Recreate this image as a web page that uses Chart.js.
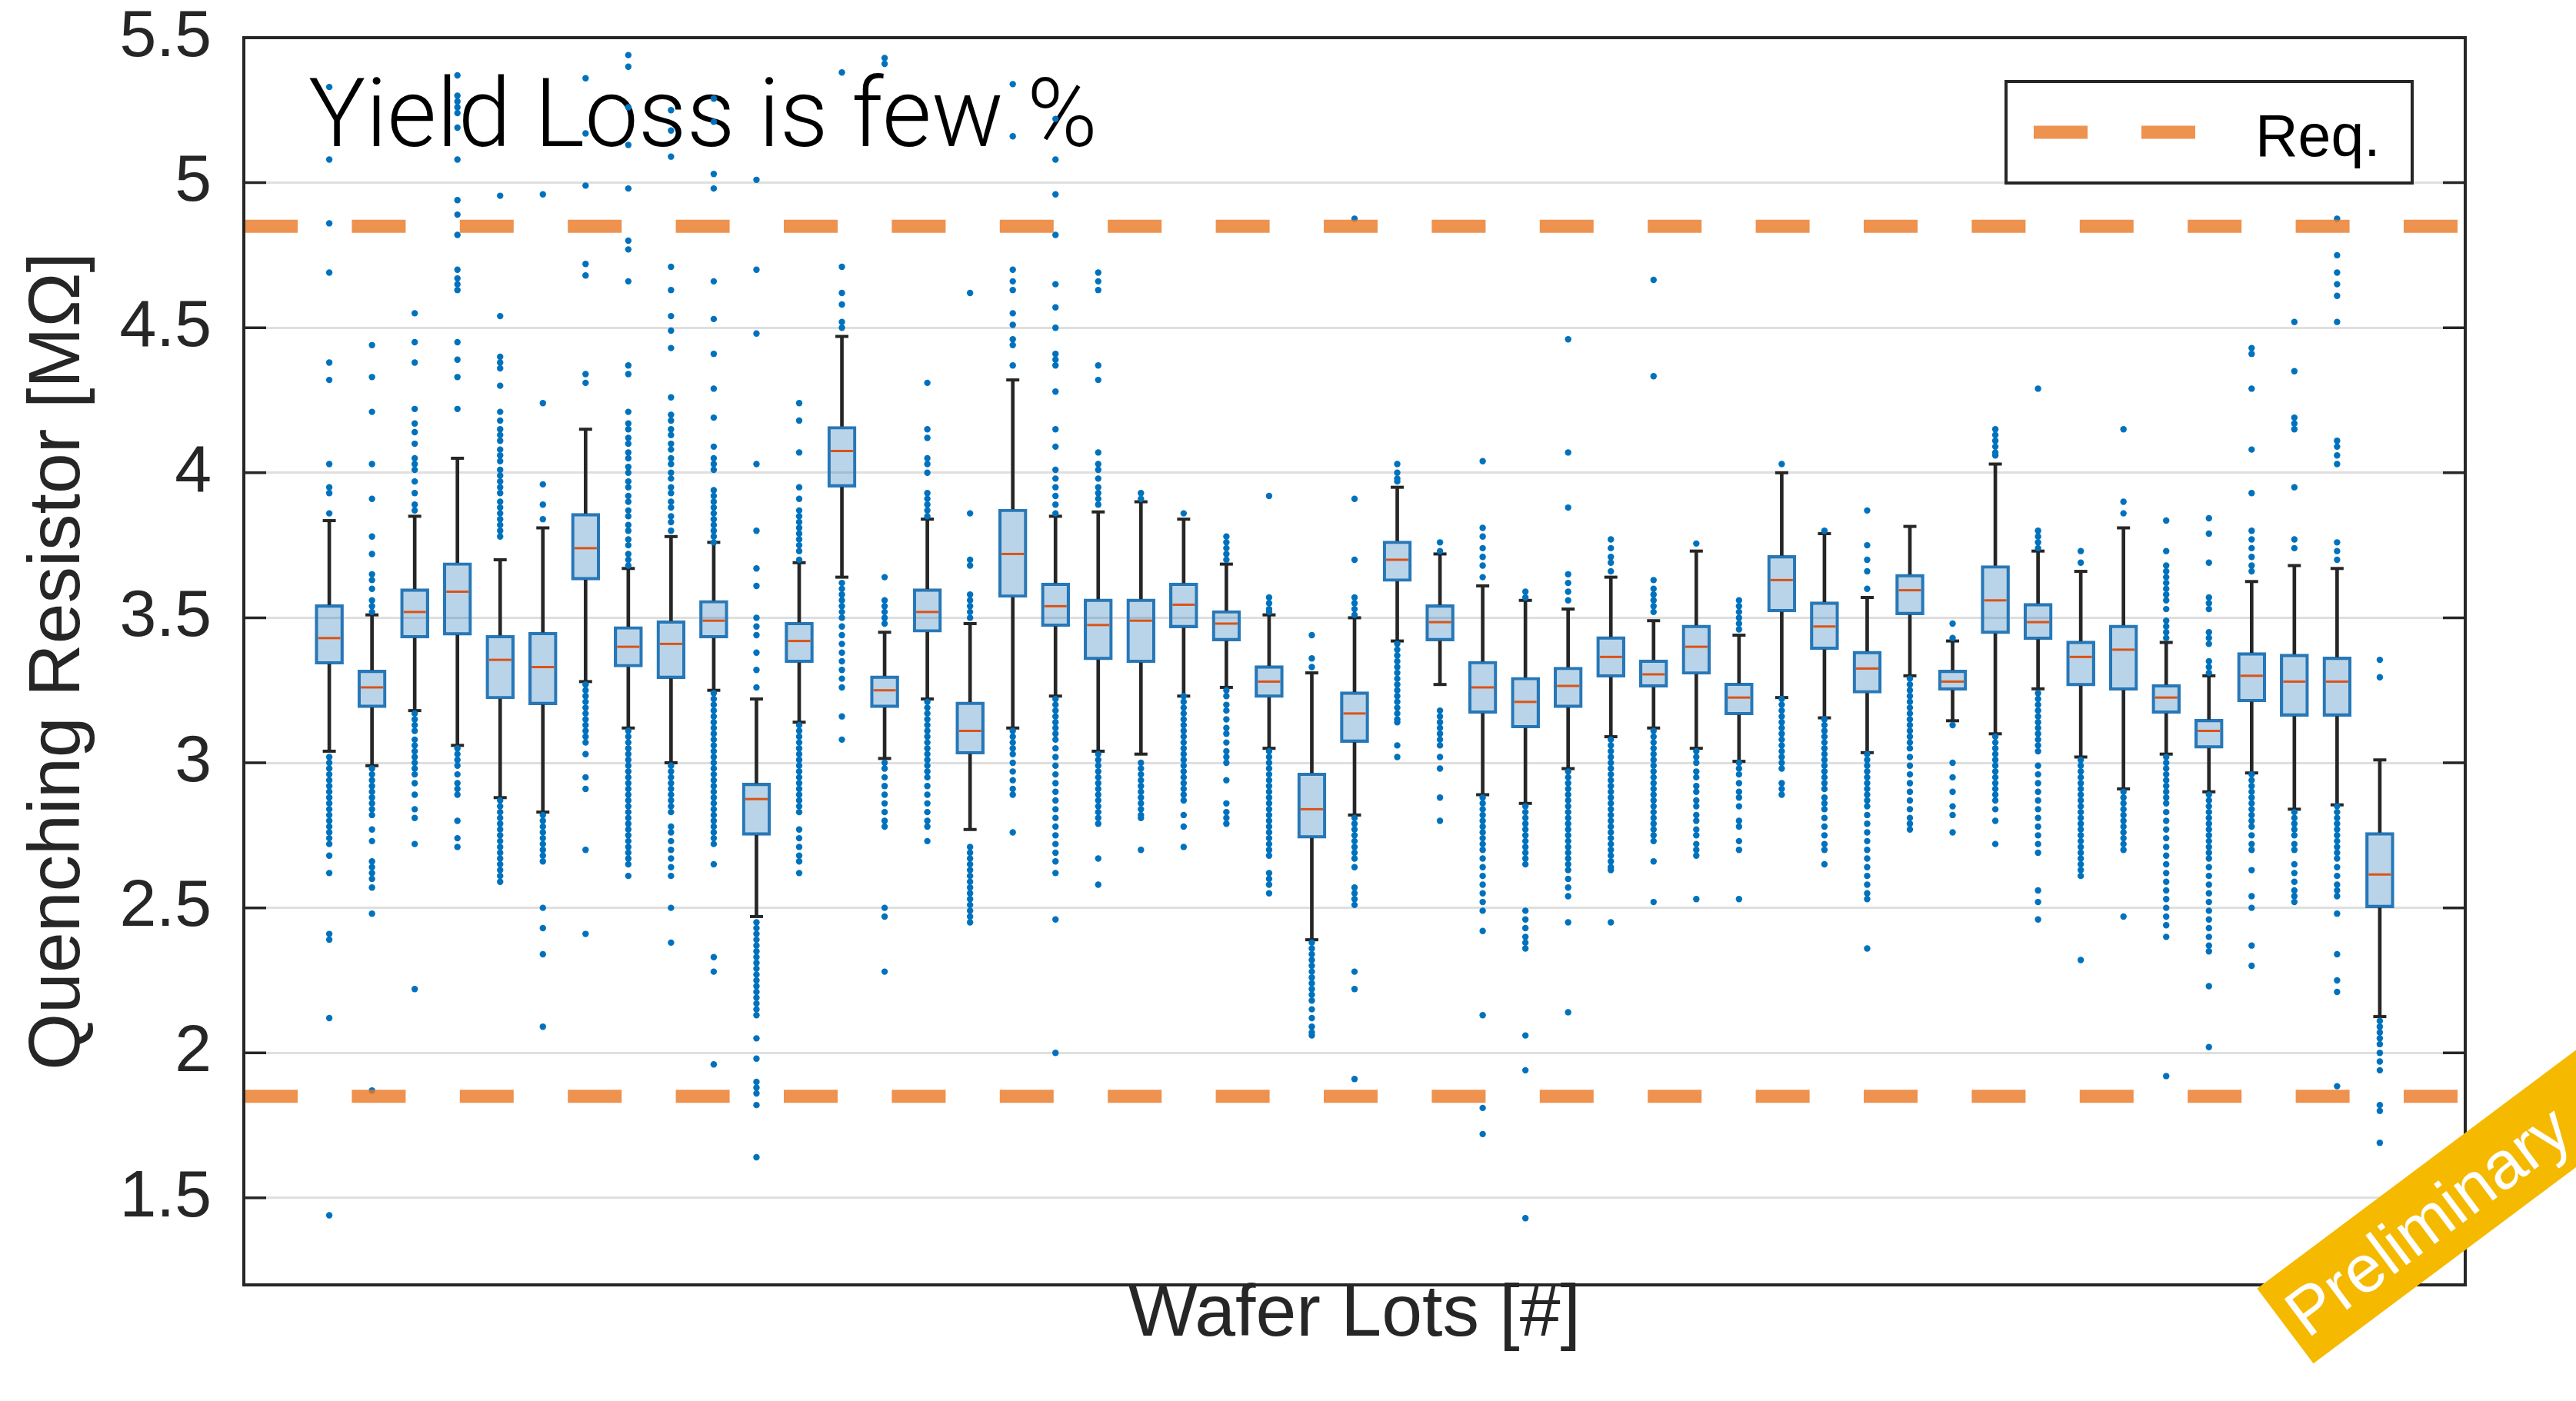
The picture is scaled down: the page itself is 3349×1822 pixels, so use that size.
<!DOCTYPE html>
<html>
<head>
<meta charset="utf-8">
<script src="https://cdn.jsdelivr.net/npm/chart.js@4.4.1/dist/chart.umd.min.js"></script>
<style>
  html, body { margin: 0; padding: 0; background: #ffffff; }
  #wrap { width: 3349px; height: 1822px; }
</style>
</head>
<body>
<div id="wrap"><canvas id="c" width="3349" height="1822"></canvas></div>
<script>
// Wafer lot index (one box per lot)
const lots = [1,2,3,4,5,6,7,8,9,10,11,12,13,14,15,16,17,18,19,20,21,22,23,24,25,
              26,27,28,29,30,31,32,33,34,35,36,37,38,39,40,41,42,43,44,45,46,47,48,49];

// Box statistics per lot, quenching resistor in MOhm
const whiskerLow  = [3.04,2.99,3.18,3.06,2.88,2.83,3.28,3.12,3.00,3.25,2.47,3.14,3.64,3.015,3.22,2.77,3.12,3.23,3.04,3.03,
                     3.23,3.26,3.05,2.39,2.82,3.42,3.27,2.89,2.86,2.98,3.09,3.12,3.05,3.005,3.225,3.155,3.035,3.30,3.145,3.10,
                     3.255,3.02,2.91,3.03,2.90,2.965,2.84,2.855,2.125];
const q1          = [3.34,3.19,3.43,3.44,3.22,3.20,3.63,3.33,3.29,3.43,2.75,3.345,3.95,3.19,3.45,3.03,3.57,3.47,3.355,3.345,
                     3.465,3.42,3.225,2.74,3.07,3.625,3.42,3.17,3.12,3.19,3.295,3.26,3.305,3.165,3.52,3.39,3.24,3.51,3.25,3.445,
                     3.425,3.265,3.25,3.17,3.05,3.21,3.16,3.16,2.50];
const median      = [3.43,3.26,3.52,3.59,3.355,3.33,3.74,3.40,3.41,3.49,2.875,3.42,4.075,3.25,3.52,3.11,3.72,3.54,3.475,3.49,
                     3.545,3.48,3.28,2.84,3.17,3.70,3.485,3.26,3.21,3.265,3.365,3.305,3.40,3.225,3.63,3.47,3.325,3.595,3.28,3.56,
                     3.485,3.365,3.39,3.225,3.11,3.30,3.28,3.28,2.615];
const q3          = [3.545,3.32,3.60,3.69,3.44,3.45,3.86,3.47,3.49,3.56,2.93,3.485,4.16,3.30,3.60,3.21,3.875,3.62,3.565,3.565,
                     3.62,3.525,3.335,2.965,3.245,3.765,3.545,3.35,3.295,3.33,3.435,3.355,3.475,3.275,3.715,3.555,3.385,3.65,3.32,3.68,
                     3.55,3.42,3.475,3.27,3.15,3.38,3.375,3.365,2.76];
const whiskerHigh = [3.835,3.51,3.85,4.05,3.70,3.81,4.15,3.67,3.78,3.76,3.22,3.69,4.47,3.45,3.84,3.48,4.32,3.85,3.865,3.90,
                     3.84,3.685,3.51,3.31,3.50,3.95,3.72,3.61,3.56,3.53,3.64,3.49,3.73,3.44,4.00,3.79,3.57,3.815,3.42,4.03,
                     3.73,3.66,3.81,3.415,3.30,3.625,3.68,3.67,3.01];

// Individual outlier measurements per lot
const outliers = [
  /* 1 */ [5.33,5.08,4.86,4.69,4.38,4.32,4.03,3.95,3.93,3.86,3.02,3.00,2.98,2.96,2.94,2.92,2.90,2.88,2.86,2.84,2.82,2.80,2.78,2.76,2.74,2.72,2.68,2.62,2.41,2.39,2.12,1.44],
  /* 2 */ [4.44,4.33,4.21,4.03,3.91,3.78,3.72,3.65,3.63,3.60,3.56,3.54,3.52,2.98,2.96,2.94,2.92,2.90,2.88,2.86,2.84,2.82,2.77,2.73,2.66,2.64,2.62,2.60,2.57,2.48,1.87],
  /* 3 */ [4.55,4.45,4.38,4.22,4.17,4.14,4.10,4.05,4.03,4.01,3.97,3.93,3.89,3.87,3.17,3.15,3.13,3.11,3.08,3.06,3.04,3.02,3.00,2.98,2.96,2.93,2.89,2.84,2.81,2.72,2.22],
  /* 4 */ [5.37,5.30,5.28,5.26,5.24,5.19,5.08,4.94,4.89,4.82,4.70,4.67,4.65,4.63,4.45,4.39,4.33,4.22,3.05,3.03,3.01,2.99,2.96,2.93,2.91,2.89,2.80,2.74,2.71],
  /* 5 */ [4.955,4.54,4.40,4.38,4.36,4.30,4.21,4.18,4.15,4.13,4.11,4.08,4.06,4.04,4.01,3.99,3.97,3.95,3.93,3.90,3.88,3.86,3.84,3.82,3.80,3.78,2.87,2.85,2.83,2.81,2.79,2.77,2.75,2.73,2.71,2.69,2.67,2.65,2.63,2.61,2.59],
  /* 6 */ [4.96,4.24,3.96,3.89,3.84,2.82,2.80,2.78,2.76,2.74,2.72,2.70,2.68,2.66,2.50,2.43,2.34,2.09],
  /* 7 */ [5.36,5.17,4.99,4.72,4.68,4.34,4.31,3.27,3.25,3.23,3.21,3.19,3.17,3.15,3.13,3.11,3.09,3.07,3.03,2.95,2.91,2.70,2.41],
  /* 8 */ [5.44,5.40,5.26,5.13,4.98,4.80,4.77,4.66,4.37,4.34,4.21,4.17,4.15,4.12,4.10,4.07,4.05,4.02,4.00,3.97,3.95,3.92,3.90,3.87,3.85,3.82,3.80,3.77,3.75,3.72,3.70,3.68,
          3.11,3.09,3.07,3.05,3.03,3.01,2.99,2.97,2.95,2.93,2.91,2.89,2.87,2.85,2.83,2.81,2.79,2.77,2.75,2.73,2.71,2.69,2.67,2.65,2.61],
  /* 9 */ [5.25,5.18,5.09,4.71,4.63,4.54,4.49,4.43,4.26,4.20,4.18,4.15,4.13,4.10,4.08,4.05,4.03,4.00,3.98,3.95,3.93,3.90,3.88,3.85,3.83,3.80,
          2.99,2.97,2.95,2.93,2.91,2.89,2.87,2.85,2.83,2.78,2.76,2.73,2.70,2.67,2.64,2.61,2.50,2.38],
  /* 10 */ [5.29,5.21,5.03,4.98,4.66,4.53,4.41,4.29,4.19,4.09,4.05,4.03,4.01,3.94,3.92,3.90,3.88,3.86,3.84,3.82,3.80,3.78,3.76,
           3.24,3.22,3.20,3.18,3.16,3.14,3.12,3.10,3.08,3.06,3.04,3.02,3.00,2.98,2.96,2.94,2.92,2.90,2.88,2.86,2.84,2.82,2.80,2.78,2.76,2.74,2.72,2.65,2.33,2.28,1.96],
  /* 11 */ [5.01,4.70,4.48,4.03,3.80,3.67,3.61,3.50,3.47,3.44,3.38,3.32,3.26,2.45,2.43,2.41,2.39,2.37,2.35,2.33,2.31,2.29,2.27,2.25,2.23,2.21,2.19,2.17,2.15,2.13,2.05,1.98,1.90,1.88,1.86,1.82,1.64],
  /* 12 */ [4.24,4.18,4.07,3.95,3.91,3.87,3.85,3.83,3.81,3.79,3.77,3.75,3.73,3.70,3.13,3.11,3.09,3.07,3.05,3.03,3.01,2.99,2.97,2.95,2.93,2.91,2.89,2.87,2.85,2.83,2.77,2.74,2.71,2.68,2.66,2.62],
  /* 13 */ [5.38,4.71,4.62,4.58,4.52,4.50,3.62,3.60,3.58,3.56,3.54,3.52,3.50,3.47,3.44,3.41,3.38,3.35,3.32,3.29,3.26,3.16,3.08],
  /* 14 */ [5.43,5.41,3.64,3.56,3.54,3.52,3.50,3.48,3.00,2.98,2.95,2.92,2.89,2.86,2.83,2.80,2.78,2.50,2.47,2.28],
  /* 15 */ [4.31,4.15,4.12,4.05,4.03,4.00,3.93,3.91,3.89,3.87,3.85,3.21,3.19,3.17,3.15,3.13,3.11,3.09,3.07,3.05,3.03,3.01,2.99,2.97,2.95,2.92,2.89,2.86,2.83,2.80,2.78,2.73],
  /* 16 */ [4.62,3.86,3.70,3.68,3.58,3.56,3.54,3.52,3.50,2.71,2.69,2.67,2.65,2.63,2.61,2.59,2.57,2.55,2.53,2.51,2.49,2.47,2.45],
  /* 17 */ [5.34,5.16,4.70,4.66,4.63,4.55,4.51,4.46,4.44,4.37,3.11,3.09,3.07,3.05,3.03,3.00,2.97,2.94,2.91,2.89,2.76],
  /* 18 */ [5.22,5.08,4.96,4.82,4.65,4.57,4.50,4.41,4.39,4.37,4.28,4.15,4.09,4.01,3.98,3.95,3.92,3.89,3.86,
           3.22,3.20,3.18,3.16,3.14,3.12,3.10,3.08,3.05,3.02,2.99,2.96,2.93,2.90,2.87,2.84,2.81,2.78,2.75,2.72,2.69,2.66,2.62,2.46,2.00],
  /* 19 */ [4.69,4.66,4.63,4.37,4.32,4.07,4.03,4.01,3.98,3.95,3.93,3.91,3.89,3.03,3.01,2.99,2.97,2.95,2.93,2.91,2.89,2.87,2.85,2.83,2.81,2.79,2.67,2.58],
  /* 20 */ [3.93,3.91,3.00,2.98,2.96,2.94,2.92,2.90,2.88,2.86,2.84,2.82,2.81,2.70],
  /* 21 */ [3.86,3.23,3.21,3.19,3.17,3.15,3.13,3.11,3.09,3.07,3.05,3.03,3.01,2.99,2.97,2.95,2.93,2.91,2.89,2.87,2.82,2.78,2.71],
  /* 22 */ [3.78,3.76,3.74,3.72,3.70,3.25,3.23,3.20,3.18,3.15,3.12,3.10,3.07,3.04,3.02,3.00,2.94,2.86,2.83,2.81,2.79],
  /* 23 */ [3.92,3.57,3.55,3.53,3.52,3.04,3.02,3.00,2.98,2.96,2.94,2.92,2.90,2.88,2.86,2.84,2.82,2.80,2.78,2.76,2.74,2.72,2.70,2.68,2.62,2.60,2.58,2.55],
  /* 24 */ [3.44,3.36,3.33,2.38,2.36,2.34,2.32,2.30,2.28,2.26,2.24,2.22,2.20,2.18,2.15,2.12,2.09,2.07,2.06],
  /* 25 */ [4.876,3.91,3.70,3.57,3.55,3.53,3.51,2.81,2.79,2.77,2.75,2.73,2.71,2.69,2.67,2.64,2.57,2.55,2.53,2.51,2.28,2.22,1.91],
  /* 26 */ [4.03,4.00,3.98,3.97,3.41,3.39,3.37,3.35,3.33,3.31,3.29,3.27,3.25,3.23,3.21,3.19,3.17,3.15,3.14,3.06,3.02],
  /* 27 */ [3.76,3.73,3.18,3.16,3.14,3.12,3.10,3.08,3.06,3.02,2.98,2.88,2.80],
  /* 28 */ [4.04,3.81,3.78,3.74,3.71,3.68,3.64,2.88,2.86,2.84,2.82,2.80,2.78,2.76,2.74,2.72,2.70,2.67,2.64,2.61,2.58,2.55,2.52,2.49,2.42,2.13,1.81,1.72],
  /* 29 */ [3.59,3.57,2.85,2.83,2.81,2.79,2.77,2.75,2.73,2.71,2.69,2.67,2.65,2.49,2.46,2.43,2.40,2.38,2.36,2.06,1.94,1.43],
  /* 30 */ [4.46,4.07,3.88,3.65,3.62,3.59,3.56,2.97,2.95,2.93,2.91,2.89,2.87,2.85,2.83,2.81,2.79,2.77,2.75,2.73,2.71,2.69,2.67,2.65,2.63,2.60,2.57,2.54,2.45,2.14],
  /* 31 */ [3.77,3.74,3.71,3.69,3.66,3.08,3.06,3.04,3.02,3.00,2.98,2.96,2.94,2.92,2.90,2.88,2.86,2.84,2.82,2.80,2.78,2.76,2.74,2.72,2.70,2.68,2.66,2.64,2.63,2.45],
  /* 32 */ [4.665,4.333,3.63,3.60,3.58,3.56,3.54,3.52,3.11,3.09,3.07,3.05,3.03,3.01,2.99,2.97,2.95,2.93,2.91,2.89,2.87,2.85,2.83,2.81,2.79,2.77,2.75,2.73,2.66,2.52],
  /* 33 */ [3.756,3.04,3.02,3.00,2.97,2.95,2.92,2.90,2.87,2.85,2.82,2.80,2.77,2.75,2.72,2.70,2.68,2.53],
  /* 34 */ [3.56,3.54,3.52,3.50,3.48,3.46,3.00,2.98,2.96,2.93,2.90,2.88,2.85,2.80,2.78,2.73,2.70,2.53],
  /* 35 */ [4.03,3.22,3.20,3.18,3.16,3.14,3.12,3.10,3.08,3.06,3.04,3.02,3.00,2.98,2.93,2.91,2.89],
  /* 36 */ [3.80,3.15,3.13,3.11,3.09,3.07,3.05,3.03,3.01,2.99,2.97,2.95,2.93,2.91,2.88,2.86,2.84,2.81,2.78,2.75,2.72,2.70,2.65],
  /* 37 */ [3.87,3.75,3.70,3.66,3.60,3.03,3.01,2.99,2.97,2.95,2.93,2.91,2.89,2.87,2.85,2.82,2.79,2.76,2.73,2.70,2.67,2.64,2.61,2.58,2.55,2.53,2.36],
  /* 38 */ [3.29,3.27,3.25,3.23,3.21,3.19,3.17,3.15,3.13,3.11,3.09,3.07,3.05,3.02,2.99,2.96,2.93,2.90,2.87,2.84,2.81,2.79,2.77],
  /* 39 */ [3.48,3.43,3.13,3.00,2.95,2.90,2.85,2.82,2.76],
  /* 40 */ [4.15,4.13,4.11,4.09,4.07,4.06,3.09,3.07,3.05,3.03,3.01,2.99,2.97,2.95,2.93,2.91,2.89,2.87,2.84,2.80,2.72],
  /* 41 */ [4.29,3.80,3.78,3.76,3.74,3.24,3.22,3.20,3.18,3.16,3.14,3.12,3.10,3.08,3.06,3.04,2.99,2.96,2.93,2.90,2.87,2.84,2.81,2.78,2.75,2.72,2.69,2.56,2.52,2.46],
  /* 42 */ [3.73,3.69,3.01,2.99,2.97,2.95,2.93,2.91,2.89,2.87,2.85,2.83,2.81,2.79,2.77,2.75,2.73,2.71,2.69,2.67,2.65,2.63,2.61,2.32],
  /* 43 */ [4.15,3.90,3.86,2.90,2.88,2.86,2.84,2.82,2.80,2.78,2.76,2.74,2.72,2.70,2.47],
  /* 44 */ [3.835,3.73,3.68,3.66,3.64,3.62,3.60,3.58,3.56,3.53,3.49,3.47,3.45,3.43,3.02,3.00,2.98,2.96,2.94,2.92,2.90,2.88,2.86,2.83,2.80,2.77,2.74,2.71,2.68,2.65,2.62,2.59,2.56,2.53,2.50,2.47,2.44,2.40,1.92],
  /* 45 */ [3.843,3.79,3.69,3.57,3.55,3.53,3.45,3.43,3.41,3.35,3.33,3.31,2.89,2.87,2.85,2.83,2.81,2.79,2.77,2.75,2.73,2.71,2.69,2.67,2.64,2.61,2.58,2.55,2.52,2.49,2.46,2.43,2.40,2.37,2.35,2.23,2.02],
  /* 46 */ [4.43,4.41,4.29,4.08,3.93,3.80,3.77,3.74,3.71,3.68,3.66,2.96,2.94,2.92,2.90,2.88,2.86,2.84,2.82,2.80,2.78,2.75,2.72,2.70,2.63,2.54,2.50,2.37,2.30],
  /* 47 */ [4.52,4.35,4.19,4.17,4.15,3.95,3.77,3.74,2.83,2.81,2.79,2.77,2.75,2.72,2.70,2.65,2.62,2.59,2.56,2.54,2.52],
  /* 48 */ [4.876,4.75,4.69,4.65,4.61,4.52,4.11,4.09,4.06,4.03,3.76,3.73,3.70,2.85,2.83,2.81,2.79,2.77,2.75,2.73,2.71,2.69,2.67,2.64,2.61,2.58,2.56,2.54,2.48,2.34,2.25,2.21,1.885],
  /* 49 */ [3.355,3.295,2.11,2.09,2.07,2.05,2.03,2.00,1.97,1.94,1.82,1.80,1.69]
];

// Requirement limits
const reqUpper = 4.85;
const reqLower = 1.85;

// Axis settings
const xRange = [-1, 51];
const yRange = [1.2, 5.5];
const yTicks = [1.5, 2, 2.5, 3, 3.5, 4, 4.5, 5, 5.5];

const FONT = '"Liberation Sans", Arial, Helvetica, sans-serif';
const AXIS_COLOR = '#262626';

// Datasets built from the arrays above
const boxData = lots.map((x, i) => ({ x, y: [q1[i], q3[i]] }));
const lowerWhiskerData = lots.map((x, i) => ({ x, y: [whiskerLow[i], q1[i]] }));
const upperWhiskerData = lots.map((x, i) => ({ x, y: [q3[i], whiskerHigh[i]] }));
const capData = lots.flatMap((x, i) => [{ x, y: whiskerLow[i] }, { x, y: whiskerHigh[i] }]);
const medianData = lots.map((x, i) => ({ x, y: median[i] }));
const outlierData = lots.flatMap((x, i) => outliers[i].map(v => ({ x, y: v })));

const reqColor = 'rgba(234,119,35,0.8)';

// Title text, frame, inward ticks, legend and badge
const decor = {
  id: 'decor',
  beforeDatasetsDraw(chart) {
    const ctx = chart.ctx;
    ctx.save();
    ctx.fillStyle = '#000000';
    ctx.textBaseline = 'alphabetic';
    ctx.textAlign = 'left';
    const text = 'Yield Loss is few %';
    ctx.font = '300 120px Roboto, ' + FONT;
    let m = ctx.measureText(text);
    let w = m.actualBoundingBoxLeft + m.actualBoundingBoxRight;
    const size = 120 * 1019 / w;
    ctx.font = '300 ' + size.toFixed(1) + 'px Roboto, ' + FONT;
    m = ctx.measureText(text);
    ctx.fillText(text, 402 + m.actualBoundingBoxLeft, 190);
    ctx.restore();
  },
  afterDatasetsDraw(chart) {
    const { ctx, chartArea: a, scales: { y } } = chart;
    ctx.save();
    ctx.strokeStyle = AXIS_COLOR;
    ctx.lineWidth = 3.5;
    ctx.beginPath();
    yTicks.forEach(v => {
      const py = y.getPixelForValue(v);
      ctx.moveTo(a.left, py); ctx.lineTo(a.left + 29, py);
      ctx.moveTo(a.right - 29, py); ctx.lineTo(a.right, py);
    });
    ctx.stroke();
    ctx.lineWidth = 4;
    ctx.strokeRect(a.left, a.top, a.right - a.left, a.bottom - a.top);
    ctx.restore();
  },
  afterDraw(chart) {
    const ctx = chart.ctx;
    // legend
    ctx.save();
    ctx.fillStyle = '#ffffff';
    ctx.fillRect(2608, 106, 528, 132);
    ctx.strokeStyle = AXIS_COLOR;
    ctx.lineWidth = 4;
    ctx.strokeRect(2608, 106, 528, 132);
    ctx.strokeStyle = reqColor;
    ctx.lineWidth = 17;
    ctx.setLineDash([70, 70]);
    ctx.beginPath();
    ctx.moveTo(2644, 172); ctx.lineTo(2855, 172);
    ctx.stroke();
    ctx.setLineDash([]);
    ctx.fillStyle = '#000000';
    ctx.font = '77px ' + FONT;
    ctx.textBaseline = 'alphabetic';
    ctx.textAlign = 'left';
    ctx.fillText('Req.', 2932, 203);
    ctx.restore();

    // badge
    ctx.save();
    ctx.translate(2971, 1724.5);
    ctx.rotate(-36.8 * Math.PI / 180);
    ctx.fillStyle = '#F5BA00';
    ctx.fillRect(0, -61, 800, 122);
    ctx.fillStyle = '#ffffff';
    ctx.font = '87px ' + FONT;
    ctx.textBaseline = 'alphabetic';
    ctx.textAlign = 'left';
    ctx.fillText('Preliminary', 13, 31);
    ctx.restore();
  }
};

new Chart(document.getElementById('c'), {
  type: 'bar',
  data: {
    datasets: [
      {
        type: 'line', label: 'Req.', order: 0,
        data: [{ x: xRange[0], y: reqUpper }, { x: xRange[1], y: reqUpper }],
        borderColor: reqColor, borderWidth: 17, borderDash: [70, 70.4], borderCapStyle: 'butt',
        pointRadius: 0, fill: false
      },
      {
        type: 'line', label: 'Req. (lower)', order: 0,
        data: [{ x: xRange[0], y: reqLower }, { x: xRange[1], y: reqLower }],
        borderColor: reqColor, borderWidth: 17, borderDash: [70, 70.4], borderCapStyle: 'butt',
        pointRadius: 0, fill: false
      },
      {
        type: 'scatter', label: 'Outliers', order: 1, data: outlierData,
        pointStyle: 'circle', pointRadius: 4.2, pointBackgroundColor: '#0072BD', pointBorderWidth: 0
      },
      {
        type: 'scatter', label: 'Median', order: 2, data: medianData,
        pointStyle: 'line', pointRadius: 14.5, pointBorderWidth: 3, pointBorderColor: '#D95319'
      },
      {
        type: 'scatter', label: 'Whisker caps', order: 3, data: capData,
        pointStyle: 'line', pointRadius: 8.5, pointBorderWidth: 4, pointBorderColor: AXIS_COLOR
      },
      {
        type: 'bar', label: 'Lower whisker', order: 4, data: lowerWhiskerData,
        grouped: false, barThickness: 4, backgroundColor: AXIS_COLOR, borderWidth: 0
      },
      {
        type: 'bar', label: 'Upper whisker', order: 4, data: upperWhiskerData,
        grouped: false, barThickness: 4, backgroundColor: AXIS_COLOR, borderWidth: 0
      },
      {
        type: 'bar', label: 'IQR', order: 5, data: boxData,
        grouped: false, barThickness: 37, borderWidth: 3.5, borderSkipped: false,
        borderColor: '#2878B8', backgroundColor: 'rgba(0,99,171,0.275)'
      }
    ]
  },
  options: {
    responsive: false,
    devicePixelRatio: 1,
    animation: false,
    events: [],
    layout: { padding: { top: 49, right: 144, left: 0, bottom: 0 } },
    plugins: { legend: { display: false }, tooltip: { enabled: false } },
    scales: {
      x: {
        type: 'linear', min: xRange[0], max: xRange[1], offset: false,
        afterFit: s => { s.height = 151; s.paddingLeft = 0; s.paddingRight = 0; },
        grid: { display: false }, border: { display: false },
        ticks: { display: false },
        title: {
          display: true, text: 'Wafer Lots [#]', color: AXIS_COLOR,
          font: { family: FONT, size: 95 }, padding: { top: 0, bottom: 54 }
        }
      },
      y: {
        type: 'linear', min: yRange[0], max: yRange[1],
        afterBuildTicks: s => { s.ticks = yTicks.map(v => ({ value: v })); },
        afterFit: s => { s.width = 317; s.paddingTop = 0; s.paddingBottom = 0; },
        grid: { color: '#dfdfdf', lineWidth: 3, drawTicks: false },
        border: { display: false },
        ticks: {
          padding: 42, color: AXIS_COLOR,
          font: { family: FONT, size: 86, lineHeight: 1 },
          callback: v => String(v)
        },
        title: {
          display: true, text: 'Quenching Resistor [MΩ]', color: AXIS_COLOR,
          font: { family: FONT, size: 95 }, padding: { top: 20, bottom: 0 }
        }
      }
    }
  },
  plugins: [decor]
});
</script>
</body>
</html>
